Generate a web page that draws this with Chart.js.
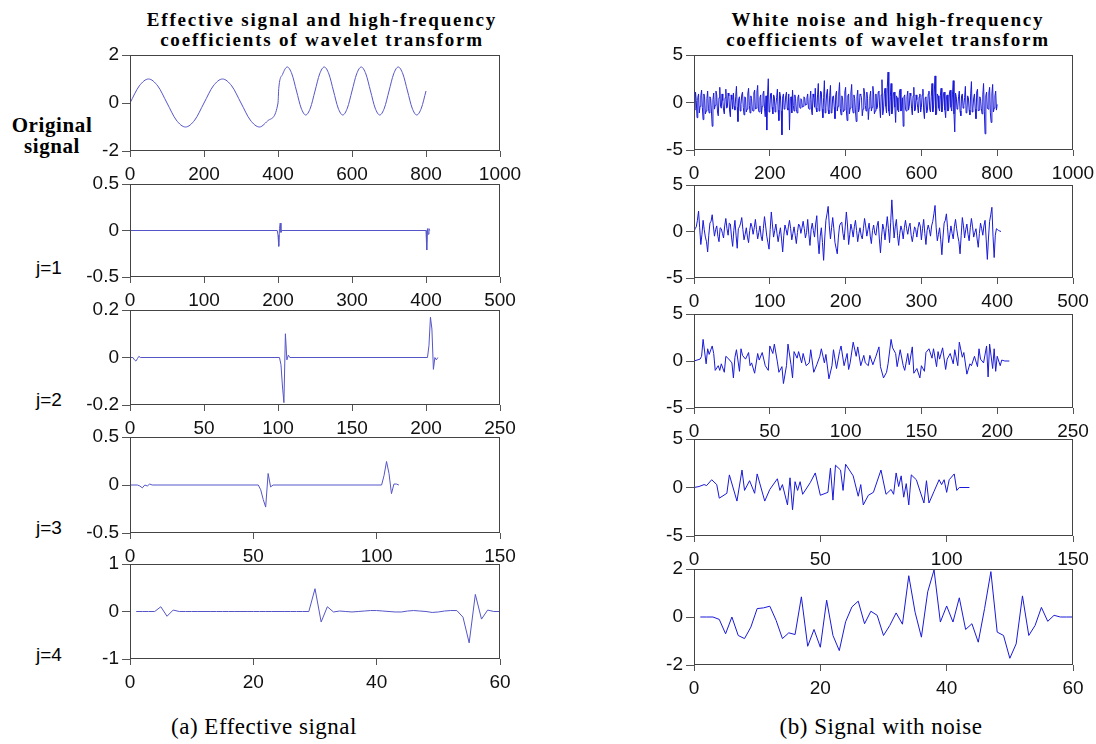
<!DOCTYPE html>
<html>
<head>
<meta charset="utf-8">
<script src="https://cdn.jsdelivr.net/npm/chart.js@4/dist/chart.umd.min.js"></script>
<style>
  body { margin: 0; background: #fff; width: 1096px; height: 744px; position: relative; overflow: hidden; }
  canvas { position: absolute; }
  .title { position: absolute; font-family: "Liberation Serif", serif; font-weight: bold; font-size: 19px;
           letter-spacing: 1.8px; text-align: center; line-height: 20px; width: 460px; }
  .side { position: absolute; font-family: "Liberation Serif", serif; font-weight: bold; font-size: 21px;
          letter-spacing: 0.6px; text-align: center; line-height: 21px; width: 100px; }
  .jlab { position: absolute; font-family: "Liberation Sans", Arial, sans-serif; font-size: 19px; }
  .cap { position: absolute; font-family: "Liberation Serif", serif; font-size: 23px; letter-spacing: 0.5px;
         width: 320px; text-align: center; }
</style>
</head>
<body>
<div class="title" style="left:92px;top:10px">Effective signal and high-frequency<br>coefficients of wavelet transform</div>
<div class="title" style="left:658px;top:10px">White noise and high-frequency<br>coefficients of wavelet transform</div>
<div class="side" style="left:2px;top:115px">Original<br>signal</div>
<div class="jlab" style="left:36px;top:257px">j=1</div>
<div class="jlab" style="left:36px;top:389px">j=2</div>
<div class="jlab" style="left:36px;top:517px">j=3</div>
<div class="jlab" style="left:36px;top:644px">j=4</div>
<div class="cap" style="left:104px;top:714px">(a) Effective signal</div>
<div class="cap" style="left:721px;top:714px">(b) Signal with noise</div>
<script>
// ---- left column: effective signal and its detail coefficients ----
const origSignal = [[0,0],[25,0.71],[50,1],[75,0.71],[100,0],[125,-0.71],[150,-1],[175,-0.71],[200,0],
  [225,0.71],[250,1],[275,0.71],[300,0],[325,-0.71],[350,-1],[375,-0.71],[400,0],
  [402,0.6],[412.5,1.2],[425,1.5],[437.5,1.21],[450,0.5],[462.5,-0.21],[475,-0.5],[487.5,-0.21],
  [500,0.5],[512.5,1.21],[525,1.5],[537.5,1.21],[550,0.5],[562.5,-0.21],[575,-0.5],[587.5,-0.21],
  [600,0.5],[612.5,1.21],[625,1.5],[637.5,1.21],[650,0.5],[662.5,-0.21],[675,-0.5],[687.5,-0.21],
  [700,0.5],[712.5,1.21],[725,1.5],[737.5,1.21],[750,0.5],[762.5,-0.21],[775,-0.5],[787.5,-0.21],[800,0.5]];
const effJ1 = [[1,0],[199,0],[200,-0.05],[201,-0.17],[202,0.02],[203,0.08],[204,-0.02],[205,0],
  [400,0],[401,-0.21],[402,0.02],[403,-0.04],[404,0.02],[405,0]];
const effJ2 = [[0,0],[2,0],[3,-0.01],[4,-0.015],[5,-0.005],[6,0.005],[7,0],[101,0],[102,-0.03],[103,-0.12],
  [104,-0.19],[105,0.1],[106,-0.01],[107,0.01],[108,0],[201,0],[202,0.05],[203,0.17],[204,0.12],[205,-0.05],
  [206,0],[207,-0.01],[208,0]];
const effJ3 = [[0,0],[3,0],[4,-0.01],[5,-0.03],[6,0],[7,-0.01],[8,0.01],[9,0],[52,0],[53,-0.05],[54,-0.15],
  [55,-0.23],[56,0.12],[57,-0.02],[58,0],[102,0],[103,0.1],[104,0.245],[105,0.12],[106,-0.09],[107,0.01],
  [108,0.01],[109,0]];
// j=4 sampled at x = 1..60
const effJ4 = [0,0,0,0,0.1,-0.1,0.03,0,0,0,
  0,0,0,0,0,0,0,0,0,0,
  0,0,0,0,0,0,0,0,0,0.48,
  -0.22,0.1,-0.01,0.01,0,-0.01,0,0.01,0.02,0.02,
  0.01,0,-0.01,-0.01,0.01,0.02,0.01,0,-0.02,-0.01,
  0.01,0.02,0.02,-0.12,-0.66,0.36,-0.16,0.03,0,0];

// ---- right column: white noise and its detail coefficients ----
const noiseOrigStep = 2;
const noiseOrig = [
  0.3,-0.8,1.1,0.2,-1.6,0.5,0.9,-1.1,-0.4,0.7,1.3,-0.5,-1.8,0.9,0.6,-1.2,-0.9,0.4,1.2,-0.6,
  -1.1,0.6,0.4,-0.9,-2.5,0.3,1.0,-0.7,-0.3,1.2,0.8,-1.0,-1.4,0.5,1.6,-0.4,-0.6,0.9,0.2,-0.8,
  -1.2,0.5,1.4,-0.6,-0.5,1.0,0.7,-0.9,-1.5,0.8,0.3,-0.7,1.0,-0.4,-0.8,0.6,1.7,-0.5,-2.0,0.4,
  0.6,-0.9,-0.2,0.8,1.1,-0.5,-1.3,0.6,0.5,-1.0,-0.7,0.9,1.5,-0.3,-1.1,0.7,0.4,-0.8,-0.9,1.0,
  1.3,-0.7,-0.6,1.1,1.8,-0.8,-1.0,0.5,0.8,-1.2,-0.4,0.9,1.2,-0.6,-1.5,0.7,-2.9,0.8,2.5,-1.0,
  -0.7,0.9,1.0,-0.5,-1.2,0.8,0.6,-1.0,-0.3,0.5,1.4,-0.8,-1.9,1.1,0.7,-0.9,-3.4,0.6,0.9,-0.7,
  -0.5,0.7,1.1,-0.6,-0.8,0.9,-2.9,0.4,0.6,-1.1,1.3,-0.3,-0.9,0.8,0.4,-0.7,-1.1,0.5,0.8,-0.4,
  -0.6,0.4,0.3,-0.5,-0.4,0.6,0.5,-0.3,-0.2,0.5,0.9,-0.6,-0.7,0.3,1.2,-0.8,-1.3,0.9,0.6,-0.5,
  1.5,-0.6,-1.0,0.8,2.0,-0.9,-0.8,1.2,1.1,-0.7,-1.6,0.5,2.3,-1.1,-0.5,0.9,1.4,-0.8,-1.2,0.7,
  1.8,-1.1,-0.9,0.6,0.7,-0.5,-1.7,0.8,1.2,-0.9,-0.4,1.0,2.1,-0.6,-1.3,0.7,0.5,-1.0,-0.8,1.1,
  1.6,-0.8,-1.9,0.7,0.9,-1.2,-0.6,1.0,1.9,-0.6,-1.1,0.8,0.4,-0.9,-2.0,0.6,1.3,-1.0,-0.7,0.9,
  0.8,0.5,-1.4,-0.7,1.5,1.0,-0.3,-0.9,1.1,0.4,-1.8,-0.6,0.6,1.2,-0.9,-0.5,1.7,0.8,-1.2,-0.9,
  0.9,-0.7,-0.5,1.1,1.2,-0.6,-1.6,0.8,2.4,-1.3,-0.8,0.9,1.5,-0.4,-1.1,1.6,3.2,-0.9,-1.4,0.6,
  2.0,-1.2,-0.7,0.9,1.1,-0.5,-2.1,0.7,0.5,-0.8,-1.0,1.1,1.4,-0.9,-0.6,0.5,-2.5,0.6,0.8,-0.7,
  -0.9,0.6,1.2,-0.8,-0.4,1.0,0.7,-0.6,-1.3,0.7,1.6,-0.9,-0.8,0.8,0.3,-0.5,-1.1,0.6,0.9,-1.0,
  -0.5,0.8,1.4,-0.9,-1.7,0.5,0.6,-1.1,-0.8,0.9,1.2,-0.7,-1.0,0.6,2.0,-1.0,-0.6,1.1,2.8,-1.3,
  -1.2,0.9,0.7,-0.6,-0.9,0.7,1.5,-1.0,-0.4,0.8,1.1,-0.8,-1.6,0.6,0.8,-0.9,-0.7,1.0,1.3,-0.5,
  -0.9,0.8,2.3,-1.2,-3.1,1.0,0.6,-0.7,-0.5,0.6,1.2,-0.9,-1.4,0.7,0.9,-0.6,-0.3,0.5,1.7,-1.1,
  -1.0,0.7,0.5,-0.8,-1.3,0.9,2.2,-1.0,-0.6,0.5,0.9,-0.7,-1.7,1.1,1.4,-0.9,-0.8,0.6,0.4,-0.6,
  -1.2,0.8,2.0,-0.9,-3.3,0.7,1.1,-0.6,-0.7,1.0,1.6,-1.1,-2.1,0.9,1.9,-1.0,-0.6,0.7,1.2,-0.8,
  -0.2];
const noiseJ1Step = 1.5;
const noiseJ1 = [
  0,0.3,0.5,1.2,2.2,0.4,-1.4,-0.3,1.2,0.2,-0.6,-1.1,-2.2,-0.4,0.9,1.1,1.8,0.6,-0.5,0.2,
  0.6,-0.5,-1.1,0.4,0.3,-0.2,-0.7,0.6,1.4,0.3,-0.4,0.9,0.8,-0.6,-1.6,0.1,1.2,-0.4,-1.8,0.3,
  0.5,0.9,1.5,0.2,-0.9,-0.3,0.4,-0.6,-1.2,0.1,0.9,0.5,-0.3,0.4,1.3,0.2,-0.8,-0.1,0.6,-0.5,
  -1.0,0.3,1.6,0.6,-0.5,-1.2,-1.9,0.2,2.1,0.7,-0.6,0.1,0.8,-0.2,-1.1,-0.3,0.4,-0.8,-2.2,-0.4,
  0.7,0.2,-0.4,0.5,1.2,0.3,-0.9,-0.2,0.5,-0.4,-1.3,-0.1,0.8,0.6,-0.2,0.4,1.1,0.3,-0.7,-0.1,
  1.3,-0.3,-1.5,0.2,0.9,0.1,-0.6,0.8,1.7,-0.9,-2.4,-0.5,0.4,-1.2,-3.1,-0.7,1.2,1.9,2.7,0.6,
  -0.8,0.4,1.5,0.3,-1.2,-1.8,-2.4,-0.6,0.6,0.9,1.0,-0.2,-0.9,0.5,2.1,0.7,-1.4,-0.3,0.8,0.2,
  -0.6,0.5,1.2,0.1,-1.1,-0.2,0.4,-0.4,-0.8,0.3,1.4,0.6,-0.5,0.2,0.9,-0.5,-1.3,0.1,0.7,-0.2,
  -0.4,0.6,1.1,-0.8,-2.3,-0.5,0.8,0.2,-0.9,0.4,1.6,0.3,-1.2,1.0,3.4,1.2,-0.7,0.5,1.3,-0.4,
  -1.5,-0.2,0.6,0.1,-0.8,0.4,1.2,0.3,-0.3,0.5,0.9,-0.4,-1.1,-0.3,0.5,0.2,-0.6,0.4,1.0,0.6,
  -0.9,0.3,1.3,-0.2,-1.4,0.1,0.7,0.2,-0.5,0.6,1.1,1.9,2.8,0.4,-1.0,-0.3,0.4,-0.9,-2.5,-0.6,
  0.9,1.2,1.9,0.4,-1.2,-0.3,0.6,-0.2,-0.8,0.5,1.3,0.3,-0.5,-1.1,-2.4,-0.4,1.5,0.6,-0.7,0.2,
  0.8,-0.3,-1.0,0.4,1.4,0.5,-0.6,-0.1,0.3,-0.8,-1.7,-0.2,0.9,0.3,-0.4,0.6,1.2,-0.9,-3.0,-0.7,
  1.1,1.8,2.6,-0.5,-2.8,-0.4,0.3,0.2,0.1,0.05,0];
const noiseJ2 = [[0,0],[4,0.2],[5,0.5],[6,2.3],[8,-0.3],[9,1.3],[10,0.7],[12,1.6],[13,0.8],[14,-1.0],
  [16,-0.5],[17,-1.0],[18,-0.3],[20,-1.2],[21,0.5],[23,0.2],[25,-0.2],[26,-1.8],[27,0.4],[28,1.2],
  [30,-1.1],[31,1.3],[32,0.6],[34,0.2],[36,0.9],[37,-0.5],[38,-0.2],[40,-1.3],[42,0.8],[43,0.1],
  [45,0.9],[47,-0.5],[49,-1.0],[50,1.6],[52,0.8],[53,1.8],[55,-0.1],[56,-1.2],[58,-0.6],[59,-2.4],
  [61,-0.5],[62,1.8],[64,-0.4],[65,-1.8],[66,1.0],[68,0.3],[69,1.0],[71,-0.2],[72,0.8],[74,-0.5],
  [76,-0.2],[77,1.2],[79,-1.2],[81,-0.4],[83,0.5],[84,1.3],[86,-0.2],[87,0.7],[89,-1.9],[91,-0.5],
  [92,1.2],[94,-0.8],[96,1.0],[97,1.6],[99,-0.5],[101,0.8],[102,-0.9],[103,-0.2],[105,2.0],[107,0.5],
  [108,1.5],[110,-0.5],[112,0.6],[113,-0.2],[115,-0.5],[116,0.6],[118,-0.4],[120,0.5],[122,1.5],[123,-0.6],
  [125,-1.8],[127,-1.2],[128,-0.3],[130,2.3],[131,1.4],[133,0.8],[134,-0.6],[136,1.2],[138,-0.5],[139,-1.0],
  [141,0.8],[142,-0.4],[144,1.5],[145,-1.3],[147,-0.8],[149,-1.8],[150,-0.5],[152,-1.1],[153,0.9],[155,1.3],
  [157,0.3],[158,1.3],[160,-0.6],[161,1.0],[162,0.2],[164,1.4],[166,-0.9],[167,0.2],[169,0.8],[171,-0.3],
  [172,1.2],[174,-0.5],[175,2.0],[177,0.4],[178,0.9],[180,-1.4],[182,-0.3],[183,-0.5],[185,0.5],[187,-0.6],
  [188,1.3],[189,0.2],[191,-0.2],[193,1.6],[194,-1.7],[195,1.8],[197,-0.8],[198,1.3],[199,-1.1],[200,0.5],
  [202,-0.5],[203,0.1],[205,0],[208,0]];
const noiseJ3X = [0,2,4,5,7,9,10,13,14,17,19,20,22,24,25,28,30,33,34,35,
  37,38,39,40,41,42,43,46,48,50,53,54,55,56,58,59,60,62,63,65,
  66,67,69,71,74,76,78,79,80,81,82,83,84,85,86,88,91,92,93,95,
  97,98,99,100,101,103,104,105,109];
const noiseJ3Y = [0,0.1,0.3,0.2,0.8,0.3,-1.1,-0.6,1.3,-1.4,1.8,-0.3,0.7,-0.6,1.4,-1.4,-0.2,0.9,-0.3,0.3,
  -1.8,1.0,-2.3,0.6,-0.3,0.6,-0.7,0.5,1.5,-0.8,-0.5,2.0,-1.3,2.3,1.8,-0.3,2.4,1.6,1.2,-0.9,
  0.3,-1.8,-0.8,-0.5,1.8,-0.7,-0.2,-0.7,1.5,0.1,1.2,-1.0,0.4,-1.8,1.3,0.8,-1.6,0.7,-1.6,-0.4,
  0.8,0.3,0.8,-0.5,0.8,1.4,-0.3,0,0];
// j=4 sampled at x = 1..60
const noiseJ4 = [0,0,0,-0.1,-0.7,0,-0.77,-0.9,-0.42,0.35,
  0.38,0.45,-0.14,-0.9,-0.66,-0.73,0.84,-1.22,-0.52,-1.26,
  0.7,-0.77,-1.4,-0.2,0.42,0.66,-0.28,0.24,0.07,-0.77,
  -0.35,0.17,-0.3,1.72,0.2,-0.84,1.05,1.96,-0.21,0.46,
  -0.21,0.8,-0.52,-0.28,-1.05,0.35,1.89,-0.63,-0.77,-1.72,
  -1.12,0.88,-0.77,-0.35,0.4,-0.18,0.07,0,0,0];

const pairs = arr => arr.map(p => ({ x: p[0], y: p[1] }));
const stepped = (vals, step, x0) => vals.map((v, i) => ({ x: x0 + i * step, y: v }));

const TICK_FONT = { family: '"Liberation Sans", Arial, sans-serif', size: 19 };
const fmt = v => String(Math.round(v * 100) / 100);
const fixFit = (w, h) => s => {
  if (w != null) s.width = w;
  if (h != null) s.height = h;
  s.paddingLeft = 0; s.paddingRight = 0; s.paddingTop = 0; s.paddingBottom = 0;
};

const framePlugin = {
  id: 'frame',
  afterDraw(chart) {
    const { ctx, chartArea: a } = chart;
    ctx.save();
    ctx.strokeStyle = '#444';
    ctx.lineWidth = 1;
    ctx.strokeRect(a.left + 0.5, a.top + 0.5, a.right - a.left - 1, a.bottom - a.top - 1);
    ctx.restore();
  }
};

const makePlot = (rect, cfg) => {
  const PL = 52, PT = 8, PR = 26, PB = 36;
  const cv = document.createElement('canvas');
  cv.width = rect.w + PL + PR;
  cv.height = rect.h + PT + PB;
  cv.style.left = (rect.x - PL) + 'px';
  cv.style.top = (rect.y - PT) + 'px';
  document.body.appendChild(cv);
  new Chart(cv, {
    type: 'line',
    data: {
      datasets: [{
        data: cfg.points,
        borderColor: cfg.color,
        borderWidth: 1,
        pointRadius: 0,
        tension: 0,
        cubicInterpolationMode: cfg.smooth ? 'monotone' : 'default'
      }]
    },
    options: {
      responsive: false,
      animation: false,
      layout: { padding: { top: PT, right: PR, left: 0, bottom: 0 } },
      plugins: { legend: { display: false }, tooltip: { enabled: false } },
      scales: {
        x: {
          type: 'linear', min: 0, max: cfg.xMax,
          afterFit: fixFit(null, PB),
          ticks: { stepSize: cfg.xStep, autoSkip: false, maxRotation: 0, font: TICK_FONT, color: '#111', padding: 6, callback: fmt },
          grid: { drawOnChartArea: false, tickLength: 6, color: '#555' },
          border: { display: false }
        },
        y: {
          type: 'linear', min: -cfg.yMax, max: cfg.yMax,
          afterFit: fixFit(PL, null),
          ticks: { stepSize: cfg.yMax, autoSkip: false, font: TICK_FONT, color: '#111', padding: 3, callback: fmt },
          grid: { drawOnChartArea: false, tickLength: 8, color: '#555' },
          border: { display: false }
        }
      }
    },
    plugins: [framePlugin]
  });
};

const LEFT = 'rgb(85,85,200)';
const RIGHT = 'rgb(25,25,215)';

makePlot({ x: 130, y: 55, w: 370, h: 96 }, { points: pairs(origSignal), xMax: 1000, xStep: 200, yMax: 2, color: LEFT, smooth: true });
makePlot({ x: 130, y: 184, w: 370, h: 93 }, { points: pairs(effJ1), xMax: 500, xStep: 100, yMax: 0.5, color: LEFT });
makePlot({ x: 130, y: 310, w: 370, h: 95 }, { points: pairs(effJ2), xMax: 250, xStep: 50, yMax: 0.2, color: LEFT });
makePlot({ x: 130, y: 437, w: 370, h: 96 }, { points: pairs(effJ3), xMax: 150, xStep: 50, yMax: 0.5, color: LEFT });
makePlot({ x: 130, y: 564, w: 370, h: 95 }, { points: stepped(effJ4, 1, 1), xMax: 60, xStep: 20, yMax: 1, color: LEFT });

makePlot({ x: 694, y: 55, w: 379, h: 95 }, { points: stepped(noiseOrig, noiseOrigStep, 0), xMax: 1000, xStep: 200, yMax: 5, color: RIGHT });
makePlot({ x: 694, y: 185, w: 379, h: 93 }, { points: stepped(noiseJ1, noiseJ1Step, 0), xMax: 500, xStep: 100, yMax: 5, color: RIGHT });
makePlot({ x: 694, y: 314, w: 379, h: 94 }, { points: pairs(noiseJ2), xMax: 250, xStep: 50, yMax: 5, color: RIGHT });
makePlot({ x: 694, y: 439, w: 379, h: 97 }, { points: noiseJ3X.map((x, i) => ({ x, y: noiseJ3Y[i] })), xMax: 150, xStep: 50, yMax: 5, color: RIGHT });
makePlot({ x: 694, y: 569, w: 379, h: 96 }, { points: stepped(noiseJ4, 1, 1), xMax: 60, xStep: 20, yMax: 2, color: RIGHT });
</script>
</body>
</html>
